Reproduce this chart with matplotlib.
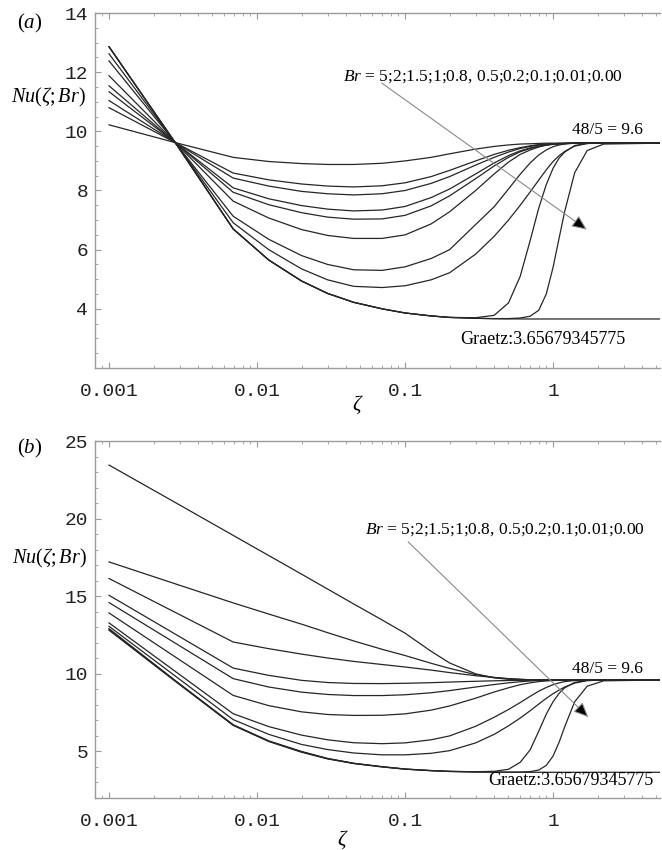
import matplotlib
matplotlib.use('Agg')
import matplotlib.pyplot as plt
from matplotlib.ticker import FixedLocator, FixedFormatter, LogLocator, MultipleLocator, NullFormatter

plt.rcParams['mathtext.fontset'] = 'custom'
plt.rcParams['mathtext.rm'] = 'Liberation Serif'
plt.rcParams['mathtext.it'] = 'Liberation Serif:italic'

# zeta sample points
zeta = [0.001, 0.0028, 0.0069, 0.012, 0.02, 0.03, 0.045, 0.07, 0.1, 0.15, 0.2, 0.3, 0.4,
        0.5, 0.6, 0.7, 0.8, 0.9, 1.0, 1.1, 1.2, 1.4, 1.7, 2.2, 5.3]

# (a) Nu(zeta; Br)
a_br5 = [10.22, 9.62, 9.12, 8.98, 8.91, 8.88, 8.88, 8.92, 9.00, 9.12, 9.24, 9.40, 9.49,
         9.54, 9.57, 9.58, 9.59, 9.60, 9.60, 9.60, 9.60, 9.60, 9.60, 9.60, 9.60]
a_br2 = [10.80, 9.62, 8.59, 8.36, 8.22, 8.15, 8.12, 8.16, 8.26, 8.47, 8.68, 9.00, 9.22,
         9.36, 9.45, 9.51, 9.55, 9.57, 9.58, 9.59, 9.59, 9.60, 9.60, 9.60, 9.60]
a_br15 = [11.04, 9.62, 8.42, 8.15, 7.97, 7.89, 7.85, 7.89, 8.00, 8.24, 8.47, 8.86, 9.12,
          9.30, 9.42, 9.49, 9.54, 9.56, 9.58, 9.59, 9.59, 9.60, 9.60, 9.60, 9.60]
a_br1 = [11.34, 9.62, 8.09, 7.72, 7.49, 7.37, 7.31, 7.34, 7.46, 7.76, 8.05, 8.56, 8.93,
         9.18, 9.34, 9.44, 9.50, 9.54, 9.57, 9.58, 9.59, 9.60, 9.60, 9.60, 9.60]
a_br08 = [11.54, 9.62, 7.94, 7.52, 7.25, 7.10, 7.03, 7.04, 7.16, 7.48, 7.82, 8.40, 8.83,
          9.12, 9.31, 9.42, 9.49, 9.54, 9.57, 9.58, 9.59, 9.60, 9.60, 9.60, 9.60]
a_br05 = [11.88, 9.62, 7.64, 7.07, 6.68, 6.48, 6.38, 6.38, 6.50, 6.87, 7.28, 8.00, 8.56,
          8.96, 9.22, 9.37, 9.47, 9.53, 9.56, 9.58, 9.59, 9.60, 9.60, 9.60, 9.60]
a_br02 = [12.38, 9.62, 7.13, 6.35, 5.80, 5.50, 5.32, 5.30, 5.42, 5.70, 6.00, 6.85, 7.45,
          8.05, 8.55, 8.93, 9.20, 9.37, 9.48, 9.54, 9.57, 9.60, 9.60, 9.60, 9.60]
a_br01 = [12.62, 9.62, 6.91, 6.00, 5.35, 4.98, 4.76, 4.72, 4.78, 4.98, 5.22, 5.85, 6.45,
          7.00, 7.50, 7.95, 8.35, 8.70, 8.98, 9.18, 9.32, 9.50, 9.59, 9.60, 9.60]
a_br001 = [12.86, 9.62, 6.70, 5.65, 4.94, 4.52, 4.22, 4.00, 3.86, 3.76, 3.71, 3.70, 3.78,
           4.20, 5.10, 6.30, 7.40, 8.20, 8.75, 9.10, 9.30, 9.52, 9.59, 9.60, 9.60]
a_br000 = [12.86, 9.62, 6.70, 5.65, 4.94, 4.52, 4.22, 4.00, 3.86, 3.76, 3.71, 3.68, 3.67,
           3.67, 3.69, 3.75, 3.95, 4.50, 5.40, 6.40, 7.30, 8.60, 9.35, 9.57, 9.60]
a_graetz = [12.86, 9.62, 6.70, 5.65, 4.94, 4.52, 4.22, 4.00, 3.86, 3.76, 3.71, 3.68, 3.665,
            3.66, 3.658, 3.657, 3.657, 3.657, 3.657, 3.657, 3.657, 3.657, 3.657, 3.657, 3.657]

# (b) Nu(zeta; Br)
b_br5 = [23.45, 21.04, 18.92, 17.62, 16.42, 15.46, 14.50, 13.47, 12.62, 11.45, 10.70, 10.00, 9.74,
         9.65, 9.62, 9.61, 9.60, 9.60, 9.60, 9.60, 9.60, 9.60, 9.60, 9.60, 9.60]
b_br2 = [17.21, 15.80, 14.57, 13.85, 13.20, 12.65, 12.12, 11.58, 11.18, 10.68, 10.35, 9.95, 9.77,
         9.68, 9.64, 9.62, 9.61, 9.60, 9.60, 9.60, 9.60, 9.60, 9.60, 9.60, 9.60]
b_br15 = [16.14, 13.96, 12.05, 11.62, 11.27, 11.02, 10.80, 10.60, 10.44, 10.24, 10.08, 9.88, 9.76,
          9.69, 9.65, 9.62, 9.61, 9.60, 9.60, 9.60, 9.60, 9.60, 9.60, 9.60, 9.60]
b_br1 = [15.06, 12.56, 10.37, 9.90, 9.58, 9.44, 9.38, 9.37, 9.39, 9.43, 9.47, 9.52, 9.55,
         9.57, 9.58, 9.59, 9.60, 9.60, 9.60, 9.60, 9.60, 9.60, 9.60, 9.60, 9.60]
b_br08 = [14.59, 11.98, 9.69, 9.15, 8.82, 8.67, 8.60, 8.60, 8.65, 8.78, 8.92, 9.15, 9.31,
          9.42, 9.49, 9.54, 9.57, 9.58, 9.59, 9.60, 9.60, 9.60, 9.60, 9.60, 9.60]
b_br05 = [13.92, 11.09, 8.61, 7.95, 7.55, 7.38, 7.32, 7.33, 7.42, 7.66, 7.93, 8.43, 8.83,
          9.10, 9.30, 9.42, 9.50, 9.54, 9.57, 9.58, 9.59, 9.60, 9.60, 9.60, 9.60]
b_br02 = [13.28, 10.16, 7.43, 6.60, 6.05, 5.75, 5.56, 5.50, 5.55, 5.75, 6.00, 6.62, 7.20,
          7.70, 8.15, 8.55, 8.88, 9.12, 9.30, 9.42, 9.50, 9.57, 9.60, 9.60, 9.60]
b_br01 = [13.06, 9.86, 7.05, 6.10, 5.45, 5.12, 4.90, 4.78, 4.78, 4.88, 5.05, 5.55, 6.10,
          6.65, 7.15, 7.62, 8.05, 8.42, 8.72, 8.96, 9.15, 9.40, 9.56, 9.60, 9.60]
b_br001 = [12.91, 9.57, 6.72, 5.68, 5.00, 4.55, 4.24, 4.02, 3.87, 3.77, 3.72, 3.69, 3.72,
           3.85, 4.30, 5.10, 6.30, 7.40, 8.20, 8.75, 9.10, 9.45, 9.58, 9.60, 9.60]
b_br000 = [12.85, 9.55, 6.70, 5.66, 4.97, 4.53, 4.23, 4.01, 3.86, 3.76, 3.71, 3.68, 3.67,
           3.67, 3.67, 3.70, 3.80, 4.10, 4.70, 5.60, 6.60, 8.20, 9.20, 9.55, 9.60]
b_graetz = [12.81, 9.52, 6.68, 5.64, 4.95, 4.52, 4.22, 4.00, 3.86, 3.76, 3.71, 3.68, 3.665,
            3.66, 3.658, 3.657, 3.657, 3.657, 3.657, 3.657, 3.657, 3.657, 3.657, 3.657, 3.657]

curves_a = [a_br5, a_br2, a_br15, a_br1, a_br08, a_br05, a_br02, a_br01, a_br001, a_br000, a_graetz]
curves_b = [b_br5, b_br2, b_br15, b_br1, b_br08, b_br05, b_br02, b_br01, b_br001, b_br000, b_graetz]

br_text = r'$Br$ = 5;2;1.5;1;0.8, 0.5;0.2;0.1;0.01;0.00'
nu_label = r'$Nu\left(\zeta;Br\right)$'
serif = 'Liberation Serif'
mono = 'Liberation Mono'
frame = '#9a9a9a'


def style_axes(ax, ymin, ymax, ystep, yminor):
    ax.set_xscale('log')
    ax.set_xlim(0.000804, 5.28)
    ax.set_ylim(ymin, ymax)
    ax.xaxis.set_major_locator(FixedLocator([0.001, 0.01, 0.1, 1]))
    ax.xaxis.set_major_formatter(FixedFormatter(['0.001', '0.01', '0.1', '1']))
    ax.xaxis.set_minor_locator(LogLocator(base=10, subs=range(2, 10)))
    ax.xaxis.set_minor_formatter(NullFormatter())
    ax.yaxis.set_major_locator(MultipleLocator(ystep))
    ax.yaxis.set_minor_locator(MultipleLocator(yminor))
    for s in ['left', 'bottom', 'top']:
        ax.spines[s].set_color(frame)
        ax.spines[s].set_linewidth(1.0)
    ax.spines['right'].set_visible(False)
    ax.tick_params(which='both', direction='in', color=frame, top=True, right=False)
    ax.tick_params(which='major', length=4, width=0.8)
    ax.tick_params(which='minor', length=2, width=0.6)
    ax.tick_params(axis='x', which='major', pad=11)
    ax.tick_params(axis='y', which='major', pad=5)
    for lab in ax.get_xticklabels() + ax.get_yticklabels():
        lab.set_fontfamily(mono)
        lab.set_fontsize(14)
        lab.set_color('#222222')


fig = plt.figure(figsize=(6.62, 8.5), dpi=100)
ax1 = fig.add_axes([95 / 662, 1 - 368 / 850, 565 / 662, 355 / 850])
ax2 = fig.add_axes([95 / 662, 1 - 798 / 850, 565 / 662, 357 / 850])

for c in curves_a:
    ax1.plot(zeta, c, color='#262626', lw=0.9)
for c in curves_b:
    ax2.plot(zeta, c, color='#262626', lw=0.9)

style_axes(ax1, 2, 14, 2, 0.5)
ax1.set_yticks([4, 6, 8, 10, 12, 14])
ax1.set_yticklabels(['4', '6', '8', '10', '12', '14'], fontfamily=mono, fontsize=14, color='#222222')
style_axes(ax2, 2, 25, 5, 1)
ax2.set_yticks([5, 10, 15, 20, 25])
ax2.set_yticklabels(['5', '10', '15', '20', '25'], fontfamily=mono, fontsize=14, color='#222222')

arrow = dict(arrowstyle='-|>,head_length=0.9,head_width=0.4', ec='#8a8a8a', fc='black',
             lw=0.8, shrinkA=0, shrinkB=0)

# panel (a) annotations
ax1.text(0.0381, 11.84, br_text, fontfamily=serif, fontsize=12.5, ha='left', va='center')
ax1.annotate('', xy=(1.69, 6.68), xytext=(0.0697, 11.63), arrowprops=arrow)
ax1.text(1.337, 10.05, '48/5 = 9.6', fontfamily=serif, fontsize=12.5, ha='left', va='center')
ax1.text(0.2355, 2.97, 'Graetz:3.65679345775', fontfamily=serif, fontsize=13, ha='left', va='center')

# panel (b) annotations
ax2.text(0.0537, 19.26, br_text, fontfamily=serif, fontsize=12.5, ha='left', va='center')
ax2.annotate('', xy=(1.732, 7.21), xytext=(0.105, 18.50), arrowprops=arrow)
ax2.text(1.35, 10.33, '48/5 = 9.6', fontfamily=serif, fontsize=12.5, ha='left', va='center')
ax2.text(0.3657, 3.13, 'Graetz:3.65679345775', fontfamily=serif, fontsize=13, ha='left', va='center')

# panel labels and axis titles
fig.text(17 / 662, 1 - 23 / 850, r'$(a)$', fontfamily=serif, fontsize=15, ha='left', va='center')
fig.text(17 / 662, 1 - 448 / 850, r'$(b)$', fontfamily=serif, fontsize=15, ha='left', va='center')
fig.text(11 / 662, 1 - 97 / 850, nu_label, fontfamily=serif, fontsize=14.5, ha='left', va='center')
fig.text(12 / 662, 1 - 558 / 850, nu_label, fontfamily=serif, fontsize=14.5, ha='left', va='center')
fig.text(358 / 662, 1 - 405 / 850, r'$\zeta$', fontfamily=serif, fontsize=15, ha='center', va='center')
fig.text(343 / 662, 1 - 840 / 850, r'$\zeta$', fontfamily=serif, fontsize=15, ha='center', va='center')

fig.savefig('out.png', dpi=100)
